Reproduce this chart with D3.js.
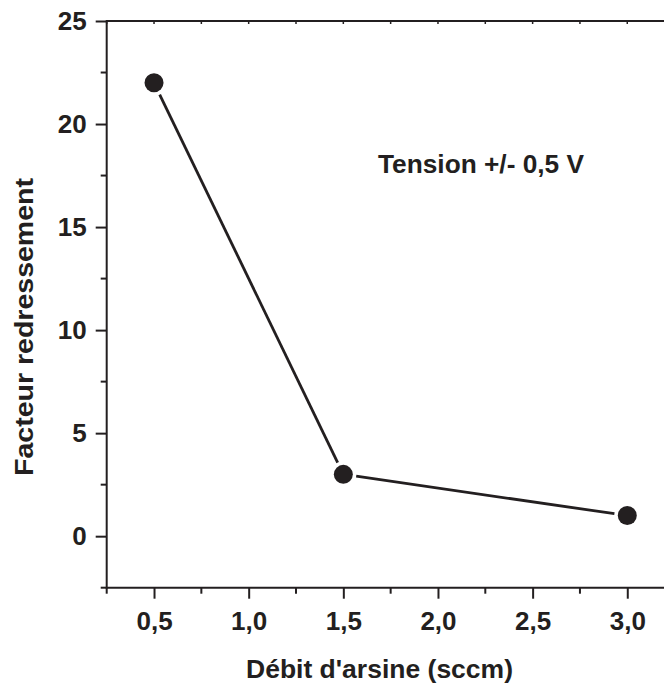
<!DOCTYPE html>
<html><head><meta charset="utf-8">
<script src="https://cdn.jsdelivr.net/npm/d3@7"></script>
<style>body{margin:0;background:#fff}svg text{font-family:"Liberation Sans",Arial,sans-serif;font-weight:bold;fill:#231f20}</style>
</head><body>
<script>
const xValues = [0.5, 1.5, 3.0];
const yValues = [22, 3, 1];
const xTicks = [0.5, 1.0, 1.5, 2.0, 2.5, 3.0];
const yTicks = [0, 5, 10, 15, 20, 25];
const xLabel = "Débit d'arsine (sccm)";
const yLabel = "Facteur redressement";
const note = "Tension +/- 0,5 V";

(function () {
const W = 664, H = 686;
const svg = d3.select("body").append("svg").attr("width", W).attr("height", H);
const left = 106.7, topY = 21, bottom = 587.7;
const x = d3.scaleLinear().domain([0.25, 3.25]).range([left, left + 3 * 189.3]);
const y = d3.scaleLinear().domain([-2.5, 25]).range([bottom, topY]);
const col = "#231f20";
const fmt = d => d3.format(".1f")(d).replace(".", ",");

// bottom axis
const xa = svg.append("g").attr("transform", `translate(0,${bottom})`)
  .call(d3.axisBottom(x).tickValues(xTicks).tickSize(11).tickPadding(13).tickFormat(fmt));
xa.select(".domain").remove();
xa.selectAll("line").attr("stroke", col).attr("stroke-width", 2);
xa.selectAll("text").attr("font-size", 26).attr("fill", col);
const xMinor = d3.range(0.25, 3.26, 0.5);
svg.append("g").selectAll("line").data(xMinor).join("line")
  .attr("x1", d => x(d)).attr("x2", d => x(d)).attr("y1", bottom).attr("y2", bottom + 6)
  .attr("stroke", col).attr("stroke-width", 2);

// left axis
const ya = svg.append("g").attr("transform", `translate(${left},0)`)
  .call(d3.axisLeft(y).tickValues(yTicks).tickSize(11).tickPadding(9).tickFormat(d3.format("d")));
ya.select(".domain").remove();
ya.selectAll("line").attr("stroke", col).attr("stroke-width", 2);
ya.selectAll("text").attr("font-size", 26).attr("fill", col);
const yMinor = [-2.5, 2.5, 7.5, 12.5, 17.5, 22.5];
svg.append("g").selectAll("line").data(yMinor).join("line")
  .attr("x1", left - 6).attr("x2", left).attr("y1", d => y(d)).attr("y2", d => y(d))
  .attr("stroke", col).attr("stroke-width", 2);

// top axis small ticks
const topTicks = d3.range(0.25, 3.26, 0.25);
svg.append("g").selectAll("line").data(topTicks).join("line")
  .attr("x1", d => x(d)).attr("x2", d => x(d)).attr("y1", topY).attr("y2", topY + 3)
  .attr("stroke", col).attr("stroke-width", 1.5);

// frame lines
svg.append("line").attr("x1", left).attr("x2", W).attr("y1", topY).attr("y2", topY).attr("stroke", col).attr("stroke-width", 2);
svg.append("line").attr("x1", left).attr("x2", W).attr("y1", bottom).attr("y2", bottom).attr("stroke", col).attr("stroke-width", 2);
svg.append("line").attr("x1", left).attr("x2", left).attr("y1", topY - 1).attr("y2", bottom + 1).attr("stroke", col).attr("stroke-width", 2);

// line segments with gaps near markers
const pts = xValues.map((v, i) => [x(v), y(yValues[i])]);
const gap = 13;
for (let i = 0; i < pts.length - 1; i++) {
  const [x1, y1] = pts[i], [x2, y2] = pts[i + 1];
  const L = Math.hypot(x2 - x1, y2 - y1), ux = (x2 - x1) / L, uy = (y2 - y1) / L;
  svg.append("line").attr("x1", x1 + ux * gap).attr("y1", y1 + uy * gap)
    .attr("x2", x2 - ux * gap).attr("y2", y2 - uy * gap)
    .attr("stroke", col).attr("stroke-width", 2.8);
}
svg.append("g").selectAll("circle").data(xValues).join("circle")
  .attr("cx", d => x(d)).attr("cy", (d, i) => y(yValues[i])).attr("r", 9.5).attr("fill", col);

// labels
svg.append("text").attr("x", 246).attr("y", 678).attr("font-size", 26)
  .attr("textLength", 267).attr("lengthAdjust", "spacingAndGlyphs").text(xLabel);
svg.append("text").attr("transform", "translate(33,476) rotate(-90)").attr("font-size", 26)
  .attr("textLength", 298).attr("lengthAdjust", "spacingAndGlyphs").text(yLabel);
svg.append("text").attr("x", 378).attr("y", 173).attr("font-size", 26)
  .attr("textLength", 206).attr("lengthAdjust", "spacingAndGlyphs").text(note);
})();
</script>
</body></html>
